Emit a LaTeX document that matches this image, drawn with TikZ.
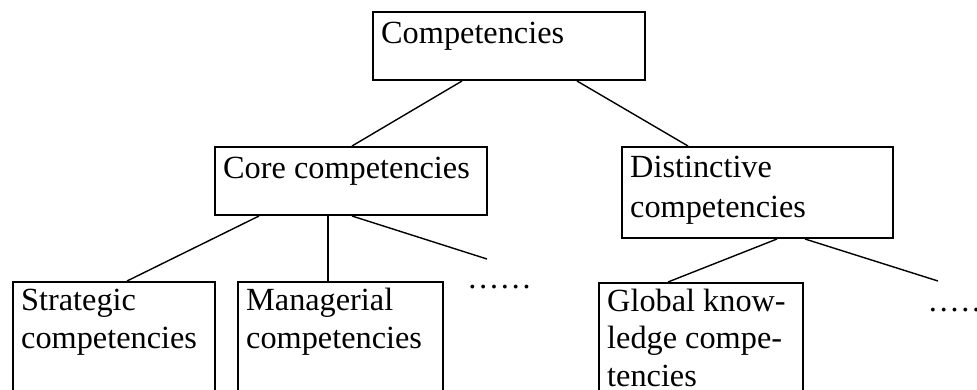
\documentclass[tikz,border=0pt]{standalone}
\usepackage{fontspec}
\setmainfont{Liberation Serif}
\usetikzlibrary{calc}
\tikzset{
  box/.style={draw, line width=2pt, inner sep=0pt, anchor=north west},
  lbl/.style={inner sep=0pt, anchor=base west, font=\fontsize{32.3}{38.5}\selectfont},
  conn/.style={line width=1.4pt}
}
\begin{document}
\begin{tikzpicture}[x=1pt,y=-1pt]
\useasboundingbox (0,0) rectangle (977,389);
\clip (0,0) rectangle (977,389);
\fill[white] (0,0) rectangle (977,389);
% boxes
\node[box, minimum width=272pt, minimum height=68pt] (top) at (372,11) {};
\node[box, minimum width=272pt, minimum height=68pt] (core) at (214,146) {};
\node[box, minimum width=271pt, minimum height=91pt] (dist) at (621,146) {};
\node[box, minimum width=202pt, minimum height=130pt] (strat) at (12,281) {};
\node[box, minimum width=205pt, minimum height=130pt] (man) at (237,281) {};
\node[box, minimum width=204pt, minimum height=130pt] (glob) at (598,282) {};
% texts
\node[lbl] (topt) at ($(top.north west)+(9,32)$) {Competencies};
\node[lbl] (coret) at ($(core.north west)+(9,32)$) {Core competencies};
\node[lbl] (distt1) at ($(dist.north west)+(9,31)$) {Distinctive};
\node[lbl] (distt2) at ($(dist.north west)+(9,71)$) {competencies};
\node[lbl] (stratt1) at ($(strat.north west)+(9,29)$) {Strategic};
\node[lbl] (stratt2) at ($(strat.north west)+(9,67)$) {competencies};
\node[lbl] (mant1) at ($(man.north west)+(9,29)$) {Managerial};
\node[lbl] (mant2) at ($(man.north west)+(9,67)$) {competencies};
\node[lbl] (globt1) at ($(glob.north west)+(9,29)$) {Global know-};
\node[lbl] (globt2) at ($(glob.north west)+(9,66.5)$) {ledge compe-};
\node[lbl] (globt3) at ($(glob.north west)+(9,104)$) {tencies};
\node[lbl] (dots1) at (467,288) {……};
\node[lbl] (dots2) at (927.5,311) {……};
% free ends
\coordinate (e1) at (487,259);
\coordinate (e2) at (938,281);
% connectors
\draw[conn] ($(top.south west)+(90,0)$) -- ($(core.north west)+(138,0)$);
\draw[conn] ($(top.south west)+(205,0)$) -- ($(dist.north west)+(67,0)$);
\draw[conn] ($(core.south west)+(45,0)$) -- ($(strat.north west)+(115,0)$);
\draw[conn] ($(core.south west)+(114,0)$) -- ($(man.north west)+(91,0)$);
\draw[conn] ($(core.south west)+(138,0)$) -- (e1);
\draw[conn] ($(dist.south west)+(156,0)$) -- ($(glob.north west)+(70,0)$);
\draw[conn] ($(dist.south west)+(184,0)$) -- (e2);
\end{tikzpicture}
\end{document}
